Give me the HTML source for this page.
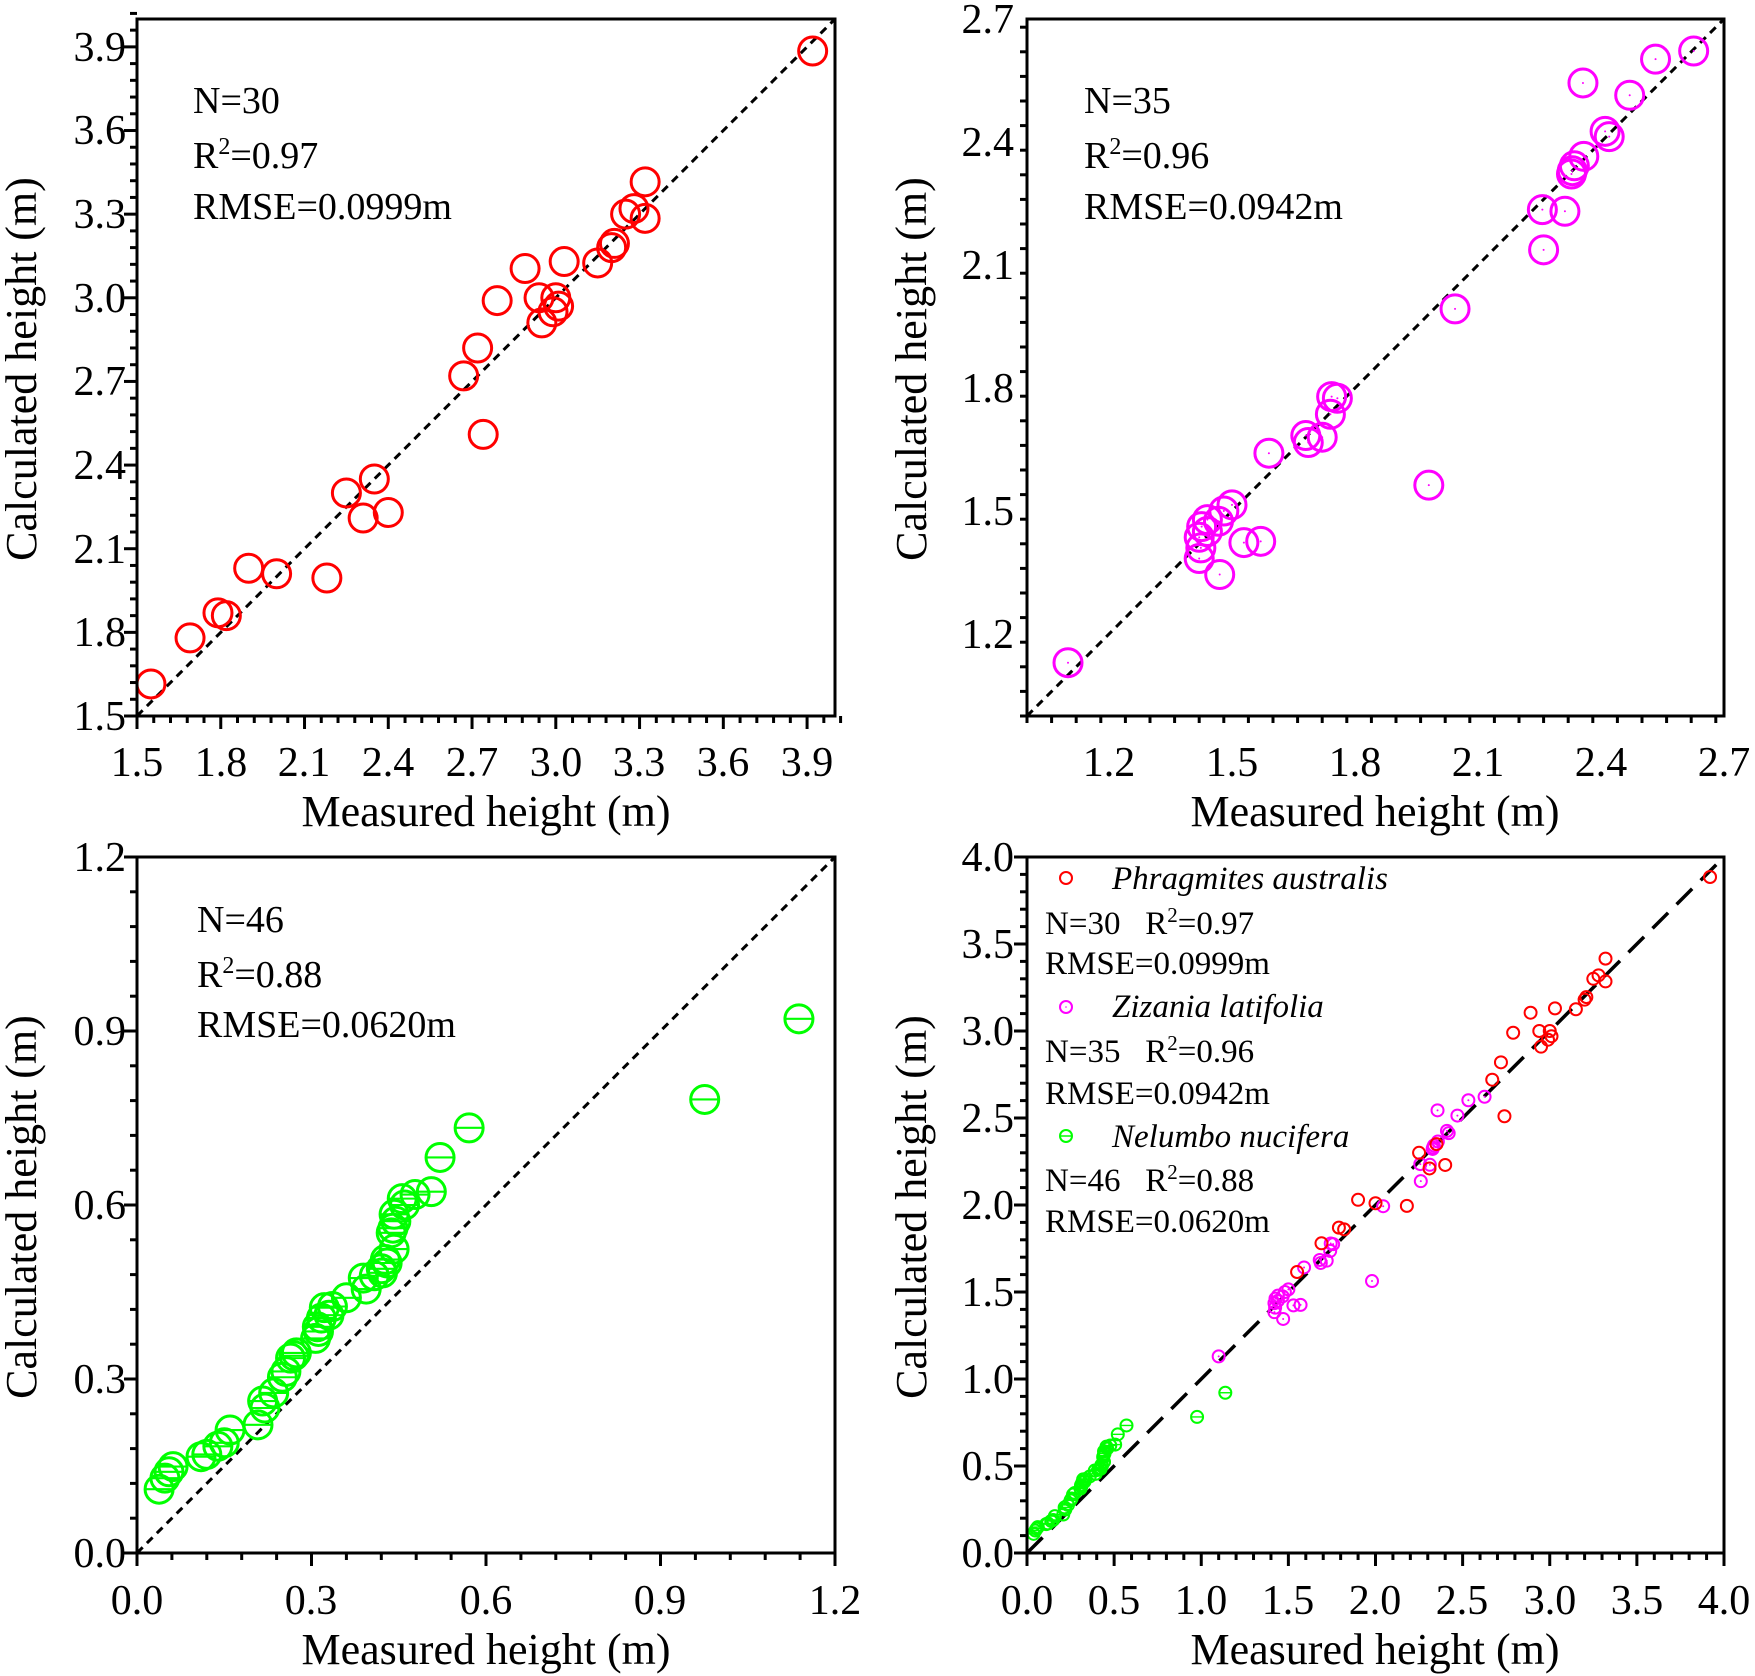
<!DOCTYPE html>
<html><head><meta charset="utf-8"><style>
html,body{margin:0;padding:0;background:#fff}
svg{display:block}
svg,text,tspan{font-family:"Liberation Serif","DejaVu Serif",serif}
text{fill:#000}
.tk{font-size:42px}
.ti{font-size:44px}
.an{font-size:38px}
.lg{font-size:33px}
</style></head><body>
<svg id="s" width="1755" height="1676" viewBox="0 0 1755 1676" xmlns="http://www.w3.org/2000/svg" font-family="Liberation Serif, serif">
<g id="plots"></g>
<g class="tk" text-anchor="end">
<text x="126" y="730">1.5</text><text x="126" y="646">1.8</text><text x="126" y="563">2.1</text><text x="126" y="479">2.4</text><text x="126" y="395">2.7</text><text x="126" y="312">3.0</text><text x="126" y="228">3.3</text><text x="126" y="144">3.6</text><text x="126" y="61">3.9</text>
</g>
<g class="tk" text-anchor="middle">
<text x="137" y="776">1.5</text><text x="221" y="776">1.8</text><text x="304" y="776">2.1</text><text x="388" y="776">2.4</text><text x="472" y="776">2.7</text><text x="556" y="776">3.0</text><text x="639" y="776">3.3</text><text x="723" y="776">3.6</text><text x="807" y="776">3.9</text>
</g>
<text class="ti" x="486" y="826" text-anchor="middle">Measured height (m)</text>
<text class="ti" transform="translate(36,369) rotate(-90)" text-anchor="middle">Calculated height (m)</text>
<g class="an"><text x="193" y="113">N=30</text><text x="193" y="168">R<tspan dy="-14" font-size="24">2</tspan><tspan dy="14">=0.97</tspan></text><text x="193" y="219">RMSE=0.0999m</text></g>

<g class="tk" text-anchor="end">
<text x="1014" y="648">1.2</text><text x="1014" y="525">1.5</text><text x="1014" y="402">1.8</text><text x="1014" y="279">2.1</text><text x="1014" y="156">2.4</text><text x="1014" y="33">2.7</text>
</g>
<g class="tk" text-anchor="middle">
<text x="1109" y="776">1.2</text><text x="1232" y="776">1.5</text><text x="1355" y="776">1.8</text><text x="1478" y="776">2.1</text><text x="1601" y="776">2.4</text><text x="1724" y="776">2.7</text>
</g>
<text class="ti" x="1375" y="826" text-anchor="middle">Measured height (m)</text>
<text class="ti" transform="translate(926,369) rotate(-90)" text-anchor="middle">Calculated height (m)</text>
<g class="an"><text x="1084" y="113">N=35</text><text x="1084" y="168">R<tspan dy="-14" font-size="24">2</tspan><tspan dy="14">=0.96</tspan></text><text x="1084" y="219">RMSE=0.0942m</text></g>

<g class="tk" text-anchor="end">
<text x="126" y="1567">0.0</text><text x="126" y="1393">0.3</text><text x="126" y="1219">0.6</text><text x="126" y="1045">0.9</text><text x="126" y="871">1.2</text>
</g>
<g class="tk" text-anchor="middle">
<text x="137" y="1614">0.0</text><text x="311" y="1614">0.3</text><text x="486" y="1614">0.6</text><text x="660" y="1614">0.9</text><text x="835" y="1614">1.2</text>
</g>
<text class="ti" x="486" y="1664" text-anchor="middle">Measured height (m)</text>
<text class="ti" transform="translate(36,1207) rotate(-90)" text-anchor="middle">Calculated height (m)</text>
<g class="an"><text x="197" y="932">N=46</text><text x="197" y="987">R<tspan dy="-14" font-size="24">2</tspan><tspan dy="14">=0.88</tspan></text><text x="197" y="1037">RMSE=0.0620m</text></g>

<g class="tk" text-anchor="end">
<text x="1014" y="1567">0.0</text><text x="1014" y="1480">0.5</text><text x="1014" y="1393">1.0</text><text x="1014" y="1306">1.5</text><text x="1014" y="1219">2.0</text><text x="1014" y="1132">2.5</text><text x="1014" y="1045">3.0</text><text x="1014" y="958">3.5</text><text x="1014" y="871">4.0</text>
</g>
<g class="tk" text-anchor="middle">
<text x="1027" y="1614">0.0</text><text x="1114" y="1614">0.5</text><text x="1201" y="1614">1.0</text><text x="1288" y="1614">1.5</text><text x="1375" y="1614">2.0</text><text x="1462" y="1614">2.5</text><text x="1550" y="1614">3.0</text><text x="1637" y="1614">3.5</text><text x="1724" y="1614">4.0</text>
</g>
<text class="ti" x="1375" y="1664" text-anchor="middle">Measured height (m)</text>
<text class="ti" transform="translate(926,1207) rotate(-90)" text-anchor="middle">Calculated height (m)</text>
<g class="lg">
<circle cx="1066" cy="878" r="6" fill="none" stroke="#f00" stroke-width="2"/>
<text x="1112" y="889" font-style="italic">Phragmites australis</text>
<text x="1045" y="934">N=30 &#160; R<tspan dy="-12" font-size="21">2</tspan><tspan dy="12">=0.97</tspan></text>
<text x="1045" y="974">RMSE=0.0999m</text>
<circle cx="1066" cy="1007" r="6" fill="none" stroke="#f0f" stroke-width="2"/><circle cx="1066" cy="1007" r="0.8" fill="#f0f"/>
<text x="1112" y="1017" font-style="italic">Zizania latifolia</text>
<text x="1045" y="1062">N=35 &#160; R<tspan dy="-12" font-size="21">2</tspan><tspan dy="12">=0.96</tspan></text>
<text x="1045" y="1104">RMSE=0.0942m</text>
<circle cx="1066" cy="1136" r="6" fill="none" stroke="#0f0" stroke-width="2"/><line x1="1060" y1="1136" x2="1072" y2="1136" stroke="#0f0" stroke-width="1.5"/>
<text x="1112" y="1147" font-style="italic">Nelumbo nucifera</text>
<text x="1045" y="1191">N=46 &#160; R<tspan dy="-12" font-size="21">2</tspan><tspan dy="12">=0.88</tspan></text>
<text x="1045" y="1232">RMSE=0.0620m</text>
</g>
</svg>
<script>
var NS="http://www.w3.org/2000/svg",G=document.getElementById("plots");
function el(n,a){var e=document.createElementNS(NS,n);for(var k in a)e.setAttribute(k,a[k]);G.appendChild(e);return e;}
var A=[[1.55,1.615],[1.69,1.78],[1.79,1.87],[1.82,1.86],[1.9,2.03],[2.0,2.01],[2.18,1.995],[2.25,2.30],[2.31,2.21],[2.35,2.35],[2.40,2.23],[2.74,2.51],[2.67,2.72],[2.72,2.82],[2.79,2.99],[2.89,3.105],[2.94,3.0],[3.0,3.0],[2.99,2.95],[2.95,2.91],[3.01,2.97],[3.03,3.13],[3.15,3.125],[3.20,3.18],[3.21,3.195],[3.25,3.30],[3.28,3.32],[3.32,3.285],[3.32,3.416],[3.92,3.885]];
var B=[[1.10,1.13],[1.47,1.345],[1.42,1.384],[1.424,1.41],[1.42,1.436],[1.426,1.462],[1.44,1.479],[1.44,1.45],[1.467,1.475],[1.48,1.50],[1.50,1.515],[1.529,1.423],[1.57,1.426],[1.59,1.641],[1.68,1.684],[1.686,1.667],[1.72,1.68],[1.74,1.736],[1.743,1.779],[1.757,1.775],[1.98,1.563],[2.044,1.993],[2.26,2.137],[2.257,2.235],[2.312,2.231],[2.328,2.322],[2.335,2.342],[2.33,2.33],[2.358,2.365],[2.41,2.426],[2.42,2.413],[2.47,2.514],[2.356,2.544],[2.533,2.602],[2.626,2.622]];
var C=[[1.138,0.921],[0.976,0.782],[0.571,0.733],[0.521,0.682],[0.506,0.623],[0.478,0.618],[0.456,0.611],[0.445,0.572],[0.442,0.584],[0.437,0.552],[0.442,0.524],[0.427,0.506],[0.422,0.483],[0.408,0.478],[0.389,0.474],[0.394,0.455],[0.36,0.44],[0.336,0.425],[0.322,0.423],[0.317,0.405],[0.312,0.382],[0.307,0.37],[0.274,0.345],[0.264,0.336],[0.256,0.313],[0.25,0.303],[0.235,0.276],[0.216,0.262],[0.208,0.221],[0.16,0.212],[0.139,0.184],[0.11,0.166],[0.062,0.149],[0.048,0.129],[0.038,0.11],[0.055,0.14],[0.12,0.17],[0.15,0.19],[0.22,0.25],[0.27,0.34],[0.31,0.39],[0.33,0.41],[0.43,0.5],[0.44,0.56],[0.46,0.6],[0.42,0.49]];
function panel(x0,x1,y0,y1,lo,hi,maj,mnr,series,dash,r,sw){
  var fx=function(v){return x0+(v-lo)/(hi-lo)*(x1-x0)},fy=function(v){return y1-(v-lo)/(hi-lo)*(y1-y0)};
  el("line",{x1:fx(lo),y1:fy(lo),x2:fx(hi),y2:fy(hi),stroke:"#000","stroke-width":dash[2],"stroke-dasharray":dash[0]+" "+dash[1]});
  series.forEach(function(s){s.d.forEach(function(p){var cx=fx(p[0]),cy=fy(p[1]);
    el("circle",{cx:cx,cy:cy,r:r,fill:"none",stroke:s.c,"stroke-width":sw});
    if(s.t==1)el("circle",{cx:cx,cy:cy,r:1,fill:s.c});
    if(s.t==2)el("line",{x1:cx-r,y1:cy,x2:cx+r,y2:cy,stroke:s.c,"stroke-width":sw*0.7});
  });});
  el("rect",{x:x0,y:y0,width:x1-x0,height:y1-y0,fill:"none",stroke:"#000","stroke-width":3});
  var n=Math.round((hi-lo)/mnr+1e-6);
  for(var i=0;i<=n;i++){var v=lo+i*mnr;var isM=Math.abs(v/maj-Math.round(v/maj))<1e-6;
    var L=isM?13:7;var X=fx(v),Y=fy(v);
    el("line",{x1:X,y1:y1,x2:X,y2:y1+L,stroke:"#000","stroke-width":3});
    el("line",{x1:x0,y1:Y,x2:x0-L,y2:Y,stroke:"#000","stroke-width":3});}
}
panel(137,835,19,716,1.5,4.0,0.3,0.06,[{d:A,c:"#f00",t:0}],[8,6,3],14,3);
panel(1027,1724,19,716,1.0,2.7,0.3,0.06,[{d:B,c:"#f0f",t:1}],[8,6,3],14,3);
panel(137,835,857,1553,0,1.2,0.3,0.06,[{d:C,c:"#0f0",t:2}],[8,6,3],14,3);
panel(1027,1724,857,1553,0,4.0,0.5,0.1,[{d:C,c:"#0f0",t:2},{d:B,c:"#f0f",t:1},{d:A,c:"#f00",t:0}],[22,12,3.5],6,2);
</script>
</body></html>
